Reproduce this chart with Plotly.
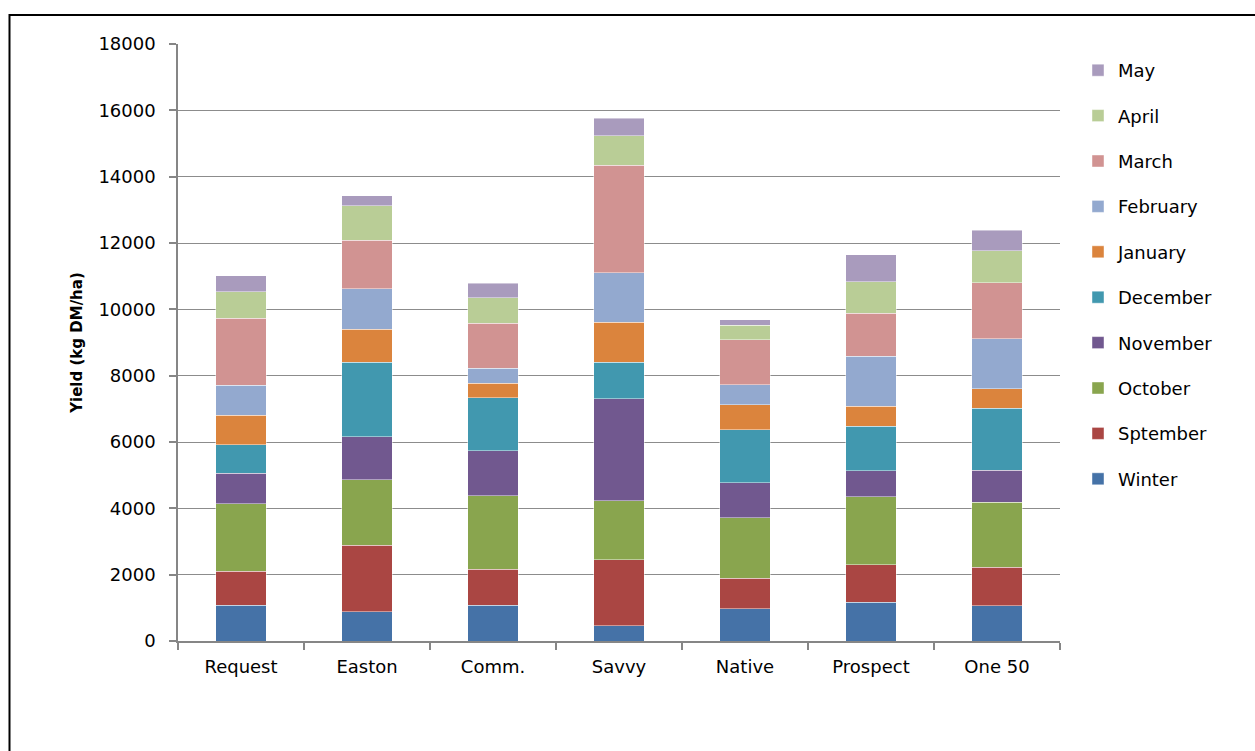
import plotly.graph_objects as go

categories = ["Request", "Easton", "Comm.", "Savvy", "Native", "Prospect", "One 50"]

series_names = ["Winter", "Sptember", "October", "November", "December",
                "January", "February", "March", "April", "May"]

winter    = [1085,  884, 1085,  454,  965, 1176, 1065]
september = [1025, 2000, 1086, 1995,  934, 1126, 1156]
october   = [2021, 1980, 2211, 1773, 1820, 2040, 1970]
november  = [ 934, 1287, 1347, 3081, 1045,  784,  955]
december  = [ 845, 2261, 1598, 1109, 1598, 1346, 1869]
january   = [ 904,  995,  442, 1203,  754,  603,  593]
february  = [ 895, 1216,  462, 1488,  603, 1508, 1498]
march     = [2020, 1467, 1347, 3240, 1366, 1296, 1698]
april     = [ 804, 1036,  774,  887,  433,  955,  955]
may       = [ 482,  301,  442,  538,  170,  814,  623]

series_values = [winter, september, october, november, december,
                 january, february, march, april, may]

colors = ["#4572A7", "#AA4643", "#89A54E", "#71588F", "#4198AF",
          "#DB843D", "#93A9CF", "#D19392", "#B9CD96", "#A99BBD"]

FONT = "DejaVu Sans"

fig = go.Figure()
n = len(series_names)
for i, (name, vals, col) in enumerate(zip(series_names, series_values, colors)):
    fig.add_trace(go.Bar(
        x=categories, y=vals, name=name, legendgroup=name,
        legendrank=(n - i) * 10,
        marker=dict(color=col, line=dict(color="rgba(255,255,255,0.55)", width=0.8)),
    ))

L, R, T, B = 178, 195, 44, 110
W, H = 1255, 751
pw, ph = W - L - R, H - T - B

fig.update_layout(
    width=W, height=H,
    margin=dict(l=L, r=R, t=T, b=B, pad=0),
    barmode="stack", bargap=0.6,
    paper_bgcolor="white", plot_bgcolor="white",
    font=dict(family=FONT, size=18, color="#000000"),
    showlegend=True,
    legend=dict(
        traceorder="grouped",
        x=(1078 - L) / pw, xanchor="left",
        y=(H - B - 52) / ph, yanchor="top",
        font=dict(family=FONT, size=18, color="#000000"),
        tracegroupgap=19,
        bgcolor="rgba(0,0,0,0)",
    ),
    xaxis=dict(
        showline=True, linecolor="#868686", linewidth=1.5,
        ticks="outside", tickson="boundaries", ticklen=7, tickcolor="#868686", tickwidth=1.5,
        showgrid=False, tickfont=dict(family=FONT, size=18),
        ticklabelstandoff=9,
    ),
    yaxis=dict(
        range=[0, 18000], dtick=2000, tickformat="d",
        showline=True, linecolor="#868686", linewidth=1.5,
        ticks="outside", ticklen=7, tickcolor="#868686", tickwidth=1.5,
        showgrid=True, gridcolor="#8c8c8c", gridwidth=1.2,
        zeroline=False,
        tickfont=dict(family=FONT, size=18),
        ticklabelstandoff=10,
        title=dict(text="<b>Yield (kg DM/ha)</b>", font=dict(family=FONT, size=15), standoff=12),
    ),
)

fig.add_shape(
    type="rect", xref="paper", yref="paper",
    x0=(9.5 - L) / pw, x1=(W + 10 - L) / pw,
    y0=(H - B - (H + 10)) / ph, y1=(H - B - 15) / ph,
    line=dict(color="#000000", width=2), fillcolor="rgba(0,0,0,0)", layer="below",
)

fig.write_html("out.html")
